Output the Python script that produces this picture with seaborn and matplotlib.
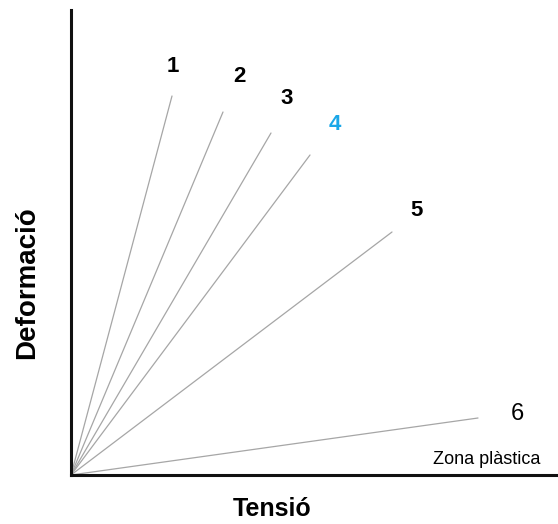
import matplotlib
matplotlib.use("Agg")
import matplotlib.pyplot as plt
import seaborn as sns
import pandas as pd

# ---- data ----
curve_labels = ["1", "2", "3", "4", "5", "6"]
end_tension = [101, 152, 200, 239, 321, 407]
end_deformation = [379, 363, 342, 320, 243, 57]
x_title = "Tensió"
y_title = "Deformació"
zone_note = "Zona plàstica"

# ---- styling / layout ----
label_colors = ["black", "black", "black", "#1aa7e8", "black", "black"]
label_weights = ["bold"] * 5 + ["normal"]
label_offsets = [(1, 29), (16, 35), (16, 34), (25, 30), (25, 21), (39, 4)]

sns.set_style("white")
plt.rcParams["font.family"] = ["Liberation Sans", "DejaVu Sans"]
plt.rcParams["text.color"] = "black"

W, H = 558, 524
fig = plt.figure(figsize=(W / 100, H / 100), dpi=100)
ax = fig.add_axes([71 / W, (H - 475) / H, 487 / W, 465 / H])

rows = []
for lab, ex, ey in zip(curve_labels, end_tension, end_deformation):
    rows.append({"curve": lab, "x": 0, "y": 0})
    rows.append({"curve": lab, "x": ex, "y": ey})
df = pd.DataFrame(rows)

sns.lineplot(data=df, x="x", y="y", units="curve", estimator=None,
             color="#a6a6a6", linewidth=0.9, ax=ax, legend=False)

for lab, ex, ey, c, w, (dx, dy) in zip(curve_labels, end_tension, end_deformation,
                                        label_colors, label_weights, label_offsets):
    ax.text(ex + dx, ey + dy, lab, color=c, fontweight=w, fontsize=16 if w == "bold" else 17,
            ha="center", va="center")

ax.text(416, 15, zone_note, fontsize=13, ha="center", va="center", color="black")

ax.set_xlim(0, 487)
ax.set_ylim(0, 465)
ax.set_xticks([])
ax.set_yticks([])
ax.set_xlabel("")
ax.set_ylabel("")
for s in ["top", "right"]:
    ax.spines[s].set_visible(False)
for s in ["left", "bottom"]:
    ax.spines[s].set_color("#111111")
    ax.spines[s].set_linewidth(2.2)

fig.text(272 / W, 1 - 509 / H, x_title, fontsize=18, fontweight="bold", ha="center", va="center",
         color="black")
fig.text(27 / W, 1 - 283 / H, y_title, fontsize=20, fontweight="bold", ha="center", va="center",
         rotation=90, color="black")

fig.savefig("out.png", dpi=100, facecolor="white")
